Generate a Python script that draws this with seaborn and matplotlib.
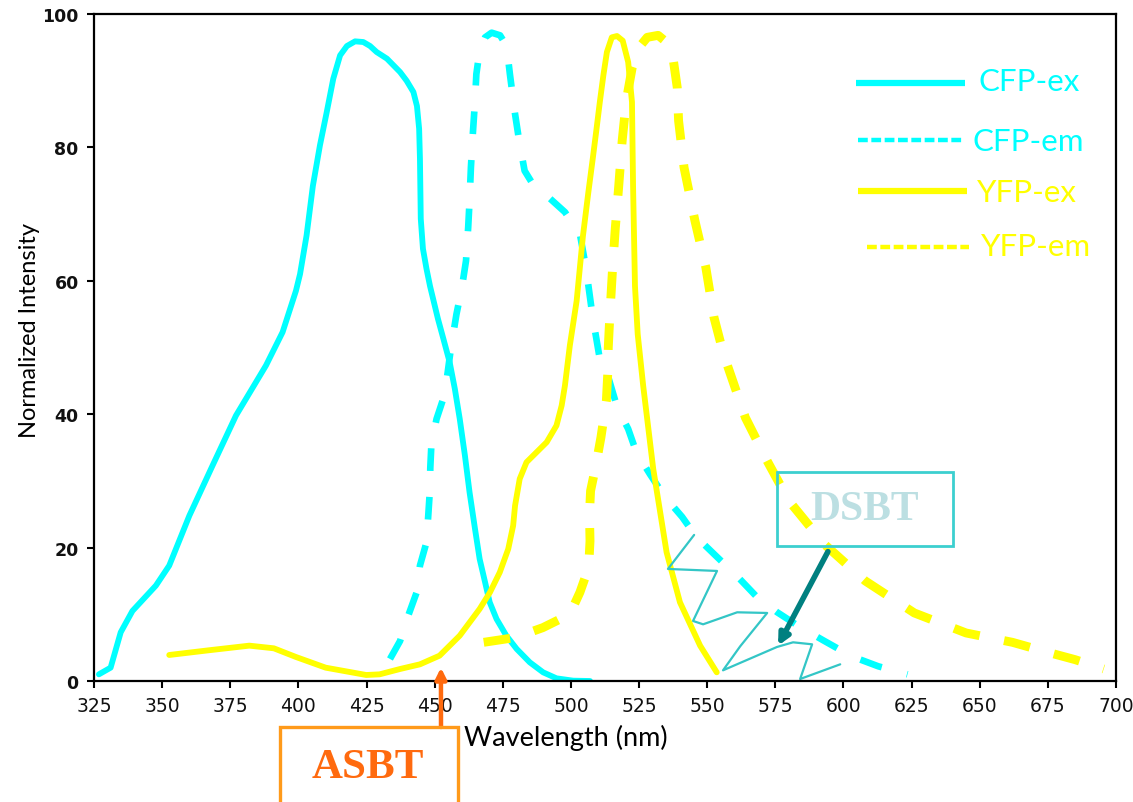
import matplotlib
matplotlib.use("Agg")
import matplotlib.pyplot as plt
from matplotlib.lines import Line2D
from matplotlib.patches import Rectangle
import seaborn as sns
import pandas as pd

# ---------------- data ----------------
cfp_ex_x = [326.8, 331.1, 334.8, 339.1, 347.7, 352.6, 360.0, 368.5, 377.1, 388.1, 394.2, 399.1,
            400.6, 403.0, 405.3, 407.9, 410.4, 412.8, 415.3, 417.8, 420.8, 423.8, 426.3, 428.7,
            432.5, 437.3, 439.7, 442.2, 443.5, 444.3, 444.6, 444.9, 445.7, 447.0, 448.3, 451.2,
            453.2, 455.5, 457.4, 459.2, 461.1, 462.8, 464.8, 466.5, 468.5, 470.2, 472.7, 476.3,
            480.1, 484.9, 489.8, 494.7, 500.8, 507.0]
cfp_ex_y = [1.0, 2.0, 7.3, 10.5, 14.3, 17.3, 24.8, 32.3, 39.8, 47.3, 52.3, 58.5,
            61.0, 66.8, 74.2, 80.3, 85.3, 90.3, 93.8, 95.2, 95.9, 95.8, 95.2, 94.3,
            93.3, 91.3, 90.0, 88.3, 86.2, 82.8, 78.3, 69.3, 64.8, 61.8, 59.2, 54.3,
            51.3, 47.8, 43.8, 39.3, 33.8, 28.3, 22.8, 18.3, 14.8, 11.8, 9.3, 6.8,
            4.8, 2.8, 1.3, 0.4, 0.05, 0.0]

cfp_em_x = [433.6, 437.3, 440.3, 443.4, 444.6, 447.0, 447.6, 448.2, 448.4, 448.8, 450.7, 453.7,
            456.0, 458.0, 460.0, 461.5, 462.3, 462.8, 463.3, 464.0, 464.8, 465.3, 466.5, 468.5,
            470.9, 474.0, 476.4, 477.6, 479.5, 481.0, 483.0, 486.0, 490.5, 497.8, 503.3, 505.5,
            508.0, 510.5, 513.6, 517.0, 521.0, 524.0, 529.0, 534.5, 540.8, 546.0, 553.6, 561.0,
            568.0, 575.7, 584.0, 593.0, 603.0, 612.8, 623.5]
cfp_em_y = [3.3, 6.0, 9.8, 13.3, 17.3, 20.8, 24.5, 28.3, 32.0, 35.5, 39.3, 43.0,
            50.0, 55.0, 59.0, 63.0, 68.0, 72.0, 77.0, 82.0, 87.0, 91.0, 94.5, 96.5,
            97.2, 96.8, 95.2, 91.0, 85.0, 81.0, 76.5, 74.5, 73.0, 70.3, 67.0, 62.0,
            54.5, 48.5, 45.7, 41.0, 37.8, 34.3, 31.0, 27.6, 24.6, 21.6, 18.6, 15.7,
            12.7, 10.3, 8.1, 6.0, 3.7, 2.2, 1.0]

yfp_ex_x = [352.6, 367.0, 382.0, 391.0, 399.1, 410.0, 424.9, 429.8, 437.3, 444.6, 451.8, 459.2,
            466.5, 470.3, 473.9, 477.0, 478.8, 479.5, 481.2, 483.7, 487.4, 491.1, 494.7, 496.6,
            497.8, 499.0, 499.6, 502.1, 504.4, 506.4, 508.0, 509.4, 510.6, 511.9, 513.2, 515.0,
            516.9, 519.0, 521.0, 522.4, 522.8, 523.5, 524.5, 526.5, 530.2, 535.1, 540.0, 547.4,
            553.5]
yfp_ex_y = [3.9, 4.6, 5.3, 4.9, 3.6, 2.0, 0.9, 1.0, 1.8, 2.5, 3.8, 6.8,
            10.8, 13.3, 16.3, 19.8, 23.3, 26.3, 30.3, 32.8, 34.3, 35.8, 38.3, 41.3,
            44.3, 48.3, 50.3, 57.0, 66.7, 73.3, 78.3, 82.8, 86.8, 90.8, 94.3, 96.5,
            96.7, 96.0, 92.8, 86.8, 74.2, 59.2, 52.0, 44.3, 31.8, 19.3, 11.8, 5.3,
            1.3]

yfp_em_x = [468.0, 479.4, 489.7, 499.6, 503.3, 506.5, 507.0, 506.8, 507.2, 509.0, 511.0, 513.0,
            513.5, 513.7, 514.3, 515.3, 516.3, 517.5, 518.8, 520.3, 522.5, 525.0, 528.0, 532.0,
            535.0, 537.5, 539.0, 539.5, 541.5, 545.5, 549.5, 552.5, 556.0, 564.0, 572.0, 580.0,
            593.0, 608.0, 626.0, 645.0, 662.0, 675.0, 685.0, 695.5]
yfp_em_y = [5.8, 6.5, 8.0, 10.0, 13.3, 17.0, 21.0, 25.0, 28.5, 32.0, 36.5, 42.0,
            46.0, 50.0, 55.0, 62.0, 68.0, 74.0, 81.0, 87.0, 92.0, 95.0, 96.5, 96.8,
            95.8, 93.3, 89.0, 84.0, 77.0, 69.0, 62.0, 54.5, 49.0, 39.5, 33.0, 27.0,
            20.5, 15.0, 10.2, 7.2, 5.8, 4.3, 3.2, 1.8]

# hand-drawn squiggle marking the donor spectral bleed-through region
squiggle_x = [545.2, 535.6, 553.6, 544.8, 548.5, 561.0, 572.0, 562.1, 555.8, 575.6, 581.5,
              588.5, 584.1, 598.8]
squiggle_y = [21.9, 16.8, 16.5, 9.0, 8.5, 10.3, 10.2, 5.2, 1.6, 5.1, 5.8, 5.5, 0.3, 2.5]

series_names = ["CFP-ex", "CFP-em", "YFP-ex", "YFP-em"]
x_ticks = [325, 350, 375, 400, 425, 450, 475, 500, 525, 550, 575, 600, 625, 650, 675, 700]
y_ticks = [0, 20, 40, 60, 80, 100]

# ---------------- styles ----------------
CYAN = "#00FFFF"
YELLOW = "#FFFF00"
W, H = 1133, 803

sns.set_theme(style="ticks")
plt.rcParams["font.family"] = ["DejaVu Sans"]

fig = plt.figure(figsize=(W / 100, H / 100), dpi=100)
fig.patch.set_facecolor("white")
ax = fig.add_axes([94 / W, 1 - 682 / H, (1116 - 94) / W, (682 - 15) / H])
ax.set_facecolor("white")

series = [
    (cfp_ex_x, cfp_ex_y, CYAN, 4.2, "-"),
    (cfp_em_x, cfp_em_y, CYAN, 4.8, (0, (3.4, 3.9))),
    (yfp_ex_x, yfp_ex_y, YELLOW, 4.2, "-"),
    (yfp_em_x, yfp_em_y, YELLOW, 6.4, (0, (3.0, 2.8))),
]
for (xs, ys, col, lw, ls), name in zip(series, series_names):
    df = pd.DataFrame({"x": xs, "y": ys})
    sns.lineplot(data=df, x="x", y="y", sort=False, estimator=None, color=col,
                 linewidth=lw, linestyle=ls, ax=ax, solid_joinstyle="round",
                 solid_capstyle="round", dash_capstyle="butt", dash_joinstyle="round")

sns.lineplot(x=squiggle_x, y=squiggle_y, sort=False, estimator=None, color="#33C6C6",
             linewidth=1.6, ax=ax, solid_joinstyle="round")

ax.set_xlim(325, 700)
ax.set_ylim(0, 100)
ax.set_xticks(x_ticks)
ax.set_yticks(y_ticks)
ax.set_xticklabels([str(t) for t in x_ticks], fontsize=13.5, color="#111111")
ax.set_yticklabels([str(t) for t in y_ticks], fontsize=12.5, fontweight="bold",
                   color="#111111")
for sp in ax.spines.values():
    sp.set_color("black")
    sp.set_linewidth(1.6)
ax.tick_params(axis="both", direction="out", length=5, width=1.5, colors="black", pad=6)
for lab in ax.get_xticklabels() + ax.get_yticklabels():
    lab.set_color("#111111")
ax.grid(False)

ax.set_xlabel("")
ax.set_ylabel("")
fig.text(566 / W, 1 - 738 / H, "Wavelength (nm)", ha="center", va="center",
         fontsize=19.5, family=["Lato", "DejaVu Sans"], color="black")
fig.text(30 / W, 1 - 331 / H, "Normalized Intensity", ha="center", va="center",
         rotation=90, fontsize=17, family=["Liberation Sans Narrow", "Lato", "DejaVu Sans"],
         color="black")

# ---------------- legend (drawn manually to match the placement) ----------------
legend_rows = [  # (handle x0, x1, y, text x, text y) in pixels from top-left
    (856, 965, 84, 979, 82),
    (858, 962, 141, 972, 142),
    (858, 967, 192, 977, 193),
    (867, 969, 248, 981, 247),
]
legend_styles = [
    (CYAN, 4.5, "-"),
    (CYAN, 3.2, (0, (2.2, 0.8))),
    (YELLOW, 4.5, "-"),
    (YELLOW, 3.2, (0, (2.2, 0.8))),
]
for (x0, x1, yl, tx, ty), (col, lw, ls), name in zip(legend_rows, legend_styles, series_names):
    fig.add_artist(Line2D([x0 / W, x1 / W], [1 - yl / H, 1 - yl / H], color=col,
                          linewidth=lw, linestyle=ls, transform=fig.transFigure,
                          solid_capstyle="butt"))
    fig.text(tx / W, 1 - ty / H, name, ha="left", va="center", fontsize=22.5,
             color=col, family=["Lato", "DejaVu Sans"])

# ---------------- DSBT annotation ----------------
ax.add_patch(Rectangle((575.6, 20.2), 640.2 - 575.6, 31.3 - 20.2, fill=False,
                       edgecolor="#3CCFCF", linewidth=2.0, clip_on=False, zorder=5))
ax.text(607.9, 25.8, "DSBT", ha="center", va="center", fontsize=30, fontweight="bold",
        family=["Liberation Serif", "DejaVu Serif"], color="#BCDFE2", zorder=6)
ax.annotate("", xy=(576.0, 5.3), xytext=(594.3, 19.4), xycoords="data", textcoords="data",
            arrowprops=dict(arrowstyle="-|>", color="#008080", lw=4, mutation_scale=16,
                            shrinkA=0, shrinkB=0), zorder=7)

# ---------------- ASBT annotation ----------------
fig.add_artist(Rectangle((280 / W, 1 - 812 / H), 178 / W, (812 - 728) / H, fill=False,
                         edgecolor="#FF9A1A", linewidth=2.4, transform=fig.transFigure,
                         clip_on=False))
fig.text(368 / W, 1 - 768 / H, "ASBT", ha="center", va="center", fontsize=31,
         fontweight="bold", family=["Liberation Serif", "DejaVu Serif"], color="#FF6A0E")
ax.annotate("", xy=(452.3, 2.0), xytext=(441 / W, 1 - 728 / H), xycoords="data",
            textcoords="figure fraction",
            arrowprops=dict(arrowstyle="-|>", color="#FF6A0E", lw=3.2, mutation_scale=16,
                            shrinkA=0, shrinkB=0), annotation_clip=False)

fig.savefig("out.png", dpi=100, facecolor="white")
